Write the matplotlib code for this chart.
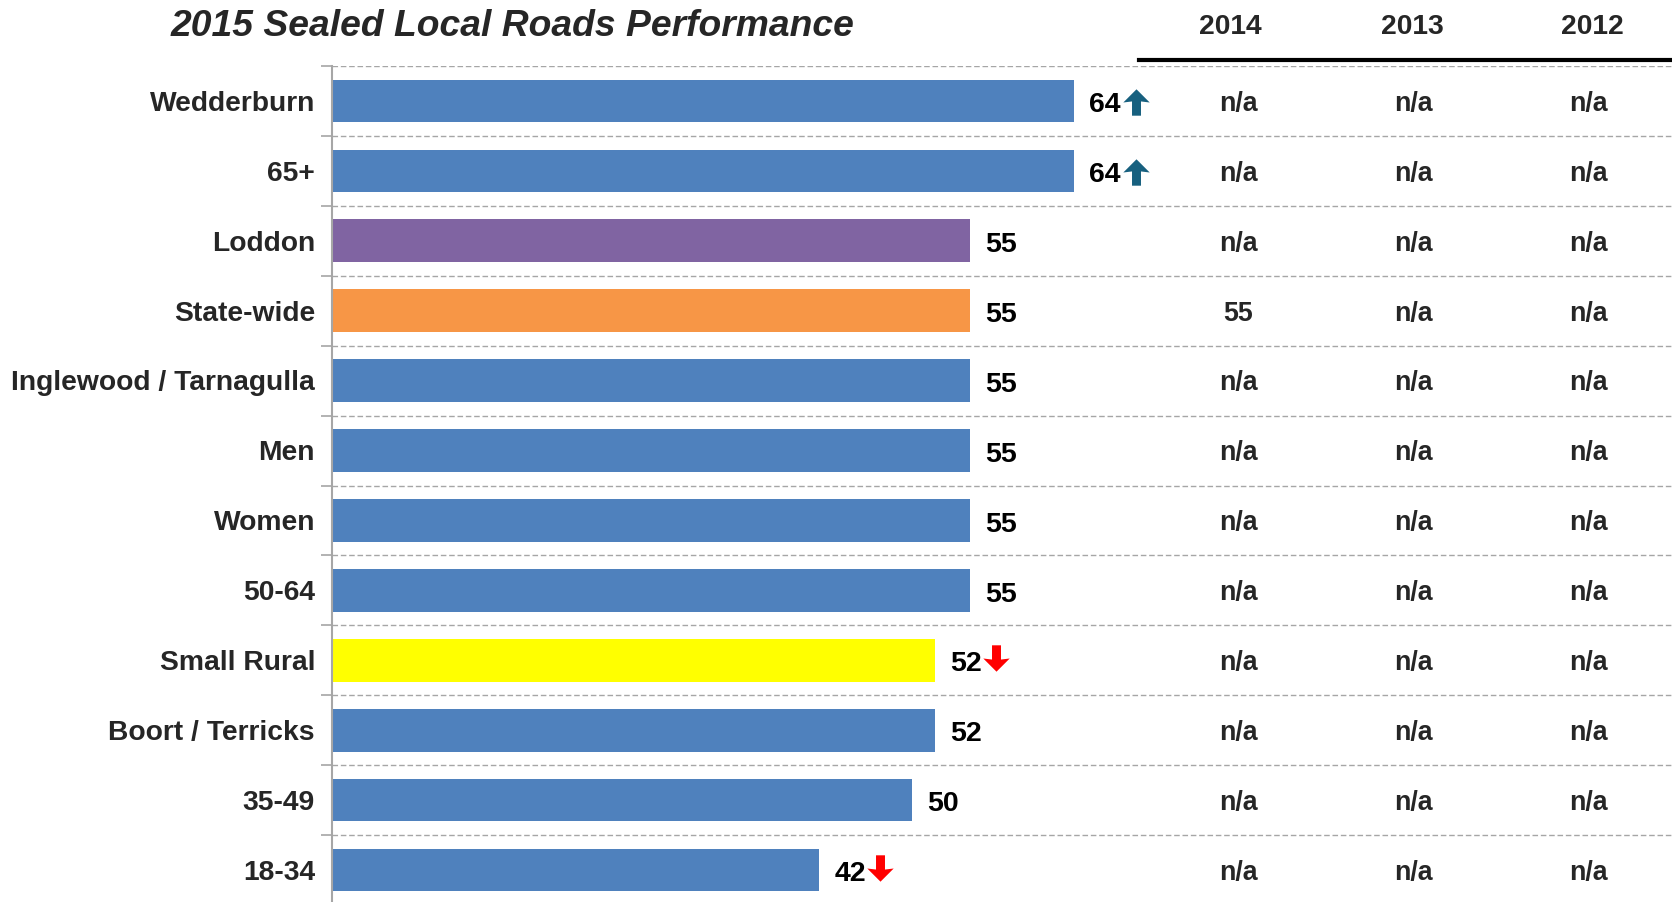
import numpy as np
import matplotlib.pyplot as plt
import matplotlib.transforms as mtransforms
from matplotlib.path import Path

plt.rcParams['font.family'] = ['Liberation Sans', 'DejaVu Sans']

categories = ['Wedderburn', '65+', 'Loddon', 'State-wide', 'Inglewood / Tarnagulla',
              'Men', 'Women', '50-64', 'Small Rural', 'Boort / Terricks', '35-49', '18-34']
scores_2015 = [64, 64, 55, 55, 55, 55, 55, 55, 52, 52, 50, 42]
trend = ['up', 'up', '', '', '', '', '', '', 'down', '', '', 'down']
years = ['2014', '2013', '2012']
scores_2014 = ['n/a', 'n/a', 'n/a', '55', 'n/a', 'n/a', 'n/a', 'n/a', 'n/a', 'n/a', 'n/a', 'n/a']
scores_2013 = ['n/a'] * 12
scores_2012 = ['n/a'] * 12

blue = '#4F81BD'
bar_colors = [blue, blue, '#8064A2', '#F79646', blue, blue, blue, blue, '#FFFF00', blue, blue, blue]

W, H = 1672, 902
fig = plt.figure(figsize=(W / 100, H / 100), dpi=100)
ax = fig.add_axes([332 / W, -3 / H, 1 - 332 / W, (905 - 66) / H])

y = np.arange(len(categories))
ax.barh(y, scores_2015, height=0.61, color=bar_colors)
ax.set_xlim(0, (W - 332) / 11.6)
ax.set_ylim(len(categories) - 0.5, -0.5)

# row separators
bounds = np.arange(-0.5, len(categories), 1.0)
ax.set_yticks(bounds, minor=True)
ax.set_yticks([])
ax.grid(True, which='minor', axis='y', color='#A6A6A6', linestyle=(0, (4, 2)), linewidth=1)
ax.tick_params(axis='y', which='minor', length=8, color='#A6A6A6', width=1.2)
ax.set_xticks([])
for s in ['top', 'right', 'bottom']:
    ax.spines[s].set_visible(False)
ax.spines['left'].set_color('#A6A6A6')
ax.spines['left'].set_linewidth(1.5)

px = 1 / 11.6  # data units per pixel
for i, (cat, v) in enumerate(zip(categories, scores_2015)):
    ax.text(-17 * px, i + 0.04, cat, ha='right', va='center', fontsize=20.3,
            fontweight='bold', color='#262626')
    ax.text(v + 15 * px, i + 0.06, str(v), ha='left', va='center', fontsize=20.5,
            fontweight='bold', color='black')

# trend arrows as block-arrow markers
arrow_up = Path([(0, 1), (1, 0.0), (0.34, 0.08), (0.34, -1), (-0.34, -1),
                 (-0.34, 0.08), (-1, 0.0), (0, 1)], closed=True)
arrow_down = Path([(x, -yy) for x, yy in arrow_up.vertices], closed=True)
for i, (v, t) in enumerate(zip(scores_2015, trend)):
    if t == 'up':
        ax.plot(v + 62 * px, i + 0.02, marker=arrow_up, markersize=19, color='#17607F',
                markeredgewidth=0)
    elif t == 'down':
        ax.plot(v + 61 * px, i - 0.03, marker=arrow_down, markersize=19,
                color='#FF0000', markeredgewidth=0)

# previous years table
trans = mtransforms.blended_transform_factory(fig.transFigure, ax.transData)
col_x = [1238, 1413, 1588]
for cx, col in zip(col_x, [scores_2014, scores_2013, scores_2012]):
    for i, s in enumerate(col):
        ax.text(cx / W, i + 0.04, s, transform=trans, ha='center', va='center',
                fontsize=19.3, fontweight='bold', color='#262626')

head_x = [1230, 1412, 1592]
for hx, yr in zip(head_x, years):
    fig.text(hx / W, 1 - 27 / H, yr, ha='center', va='center', fontsize=20.3,
             fontweight='bold', color='#262626')
fig.add_artist(plt.Line2D([1139 / W, 1], [1 - 60 / H, 1 - 60 / H], color='black',
                          linewidth=3, transform=fig.transFigure))

fig.text(513 / W, 1 - 27 / H, '2015 Sealed Local Roads Performance', ha='center',
         va='center', fontsize=26.8, fontweight='bold', fontstyle='italic', color='#262626')

fig.savefig('out.png', dpi=100)
